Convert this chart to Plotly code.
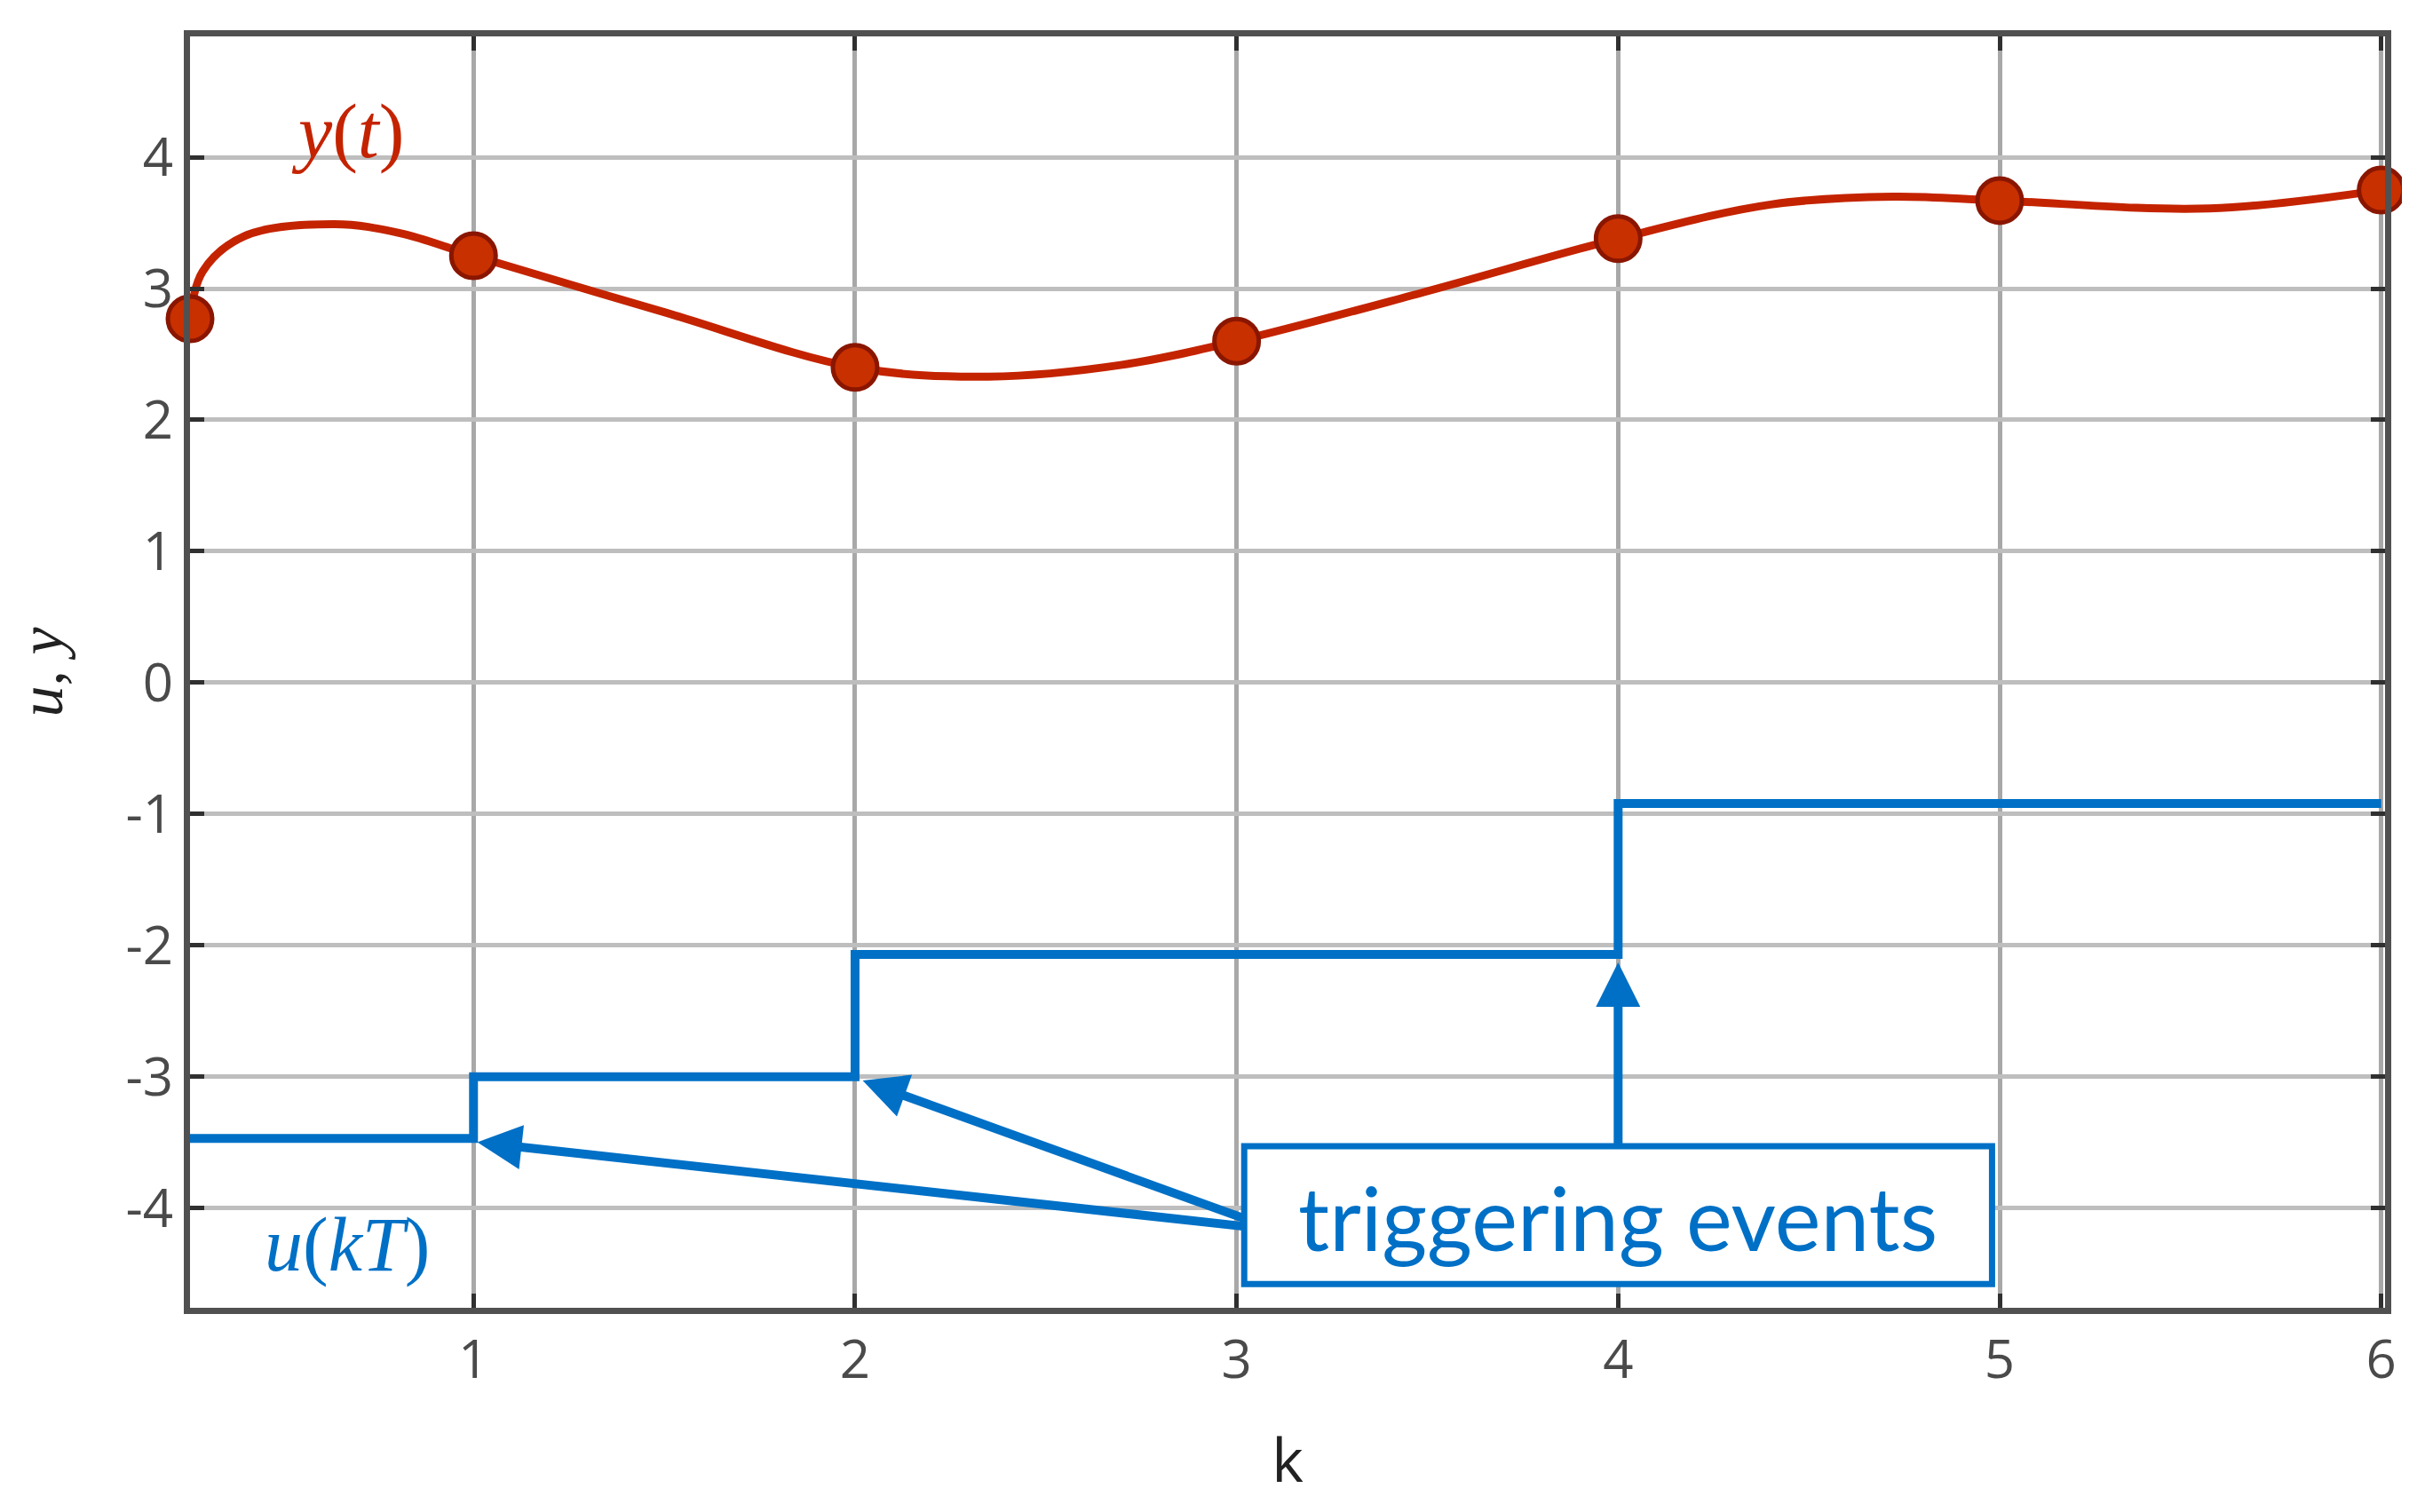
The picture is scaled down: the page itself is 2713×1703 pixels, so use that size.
import plotly.graph_objects as go

# sampled output y(kT) at the triggering instants
k_samples = [0.257, 1, 2, 3, 4, 5, 6]
y_samples = [2.77, 3.25, 2.40, 2.60, 3.38, 3.67, 3.75]

# continuous output y(t)
t_curve = [0.257, 0.29, 0.40, 0.636, 0.81, 1.0, 1.5, 2.0, 2.35, 2.7, 3.0, 3.5, 4.0, 4.4, 4.72, 5.0, 5.55, 6.0]
y_curve = [2.77, 3.13, 3.40, 3.49, 3.42, 3.25, 2.82, 2.40, 2.33, 2.42, 2.60, 2.98, 3.38, 3.64, 3.70, 3.67, 3.61, 3.75]

# held control input u(kT)
k_u = [0.257, 1, 2, 3, 4, 5, 6]
u_vals = [-3.47, -3.0, -2.07, -2.07, -0.92, -0.92, -0.92]

x_ticks = [1, 2, 3, 4, 5, 6]
y_ticks = [-4, -3, -2, -1, 0, 1, 2, 3, 4]
y_ticktext = ["-4", "-3", "-2", "-1", "0", "1", "2", "3", "4"]

RED = "#C42300"
BLUE = "#0070C6"

fig = go.Figure()

fig.add_trace(go.Scatter(x=t_curve, y=y_curve, mode="lines",
                         line=dict(color=RED, width=9, shape="spline", smoothing=1.0),
                         hoverinfo="skip"))
fig.add_trace(go.Scatter(x=k_u, y=u_vals, mode="lines",
                         line=dict(color=BLUE, width=10, shape="hv"),
                         cliponaxis=False))
fig.add_trace(go.Scatter(x=k_samples, y=y_samples, mode="markers",
                         marker=dict(color="#C83000", size=50, line=dict(color="#8A1600", width=5)),
                         cliponaxis=False))

# "triggering events" box and its arrows
fig.add_shape(type="rect", x0=3.02, x1=4.98, y0=-4.58, y1=-3.53,
              fillcolor="white", line=dict(color=BLUE, width=7))
fig.add_annotation(x=4.0, y=-4.07, text="triggering events", showarrow=False,
                   font=dict(family="Lato", size=98, color=BLUE))

arrows = [((1.01, -3.50), (3.02, -4.14)),
          ((2.02, -3.03), (3.02, -4.08)),
          ((4.0, -2.13), (4.0, -3.53))]
for (tip, tail) in arrows:
    fig.add_annotation(x=tip[0], y=tip[1], ax=tail[0], ay=tail[1],
                       xref="x", yref="y", axref="x", ayref="y",
                       text="", showarrow=True, arrowhead=2, arrowsize=1.0,
                       arrowwidth=10, arrowcolor=BLUE)

fig.add_annotation(x=0.67, y=4.2, text="<i>y</i>(<i>t</i>)", showarrow=False,
                   font=dict(family="Liberation Serif", size=86, color=RED))
fig.add_annotation(x=0.67, y=-4.28, text="<i>u</i>(<i>kT</i>)", showarrow=False,
                   font=dict(family="Liberation Serif", size=86, color=BLUE))

fig.update_layout(
    width=2713, height=1703,
    margin=dict(l=206, r=35, t=33, b=238),
    plot_bgcolor="white", paper_bgcolor="white",
    showlegend=False,
)
fig.update_xaxes(
    range=[0.257, 6.01], tickvals=x_ticks,
    showgrid=True, gridcolor="#A8A8A8", gridwidth=5,
    showline=True, linecolor="#505050", linewidth=7, mirror="ticks",
    ticks="inside", ticklen=16, tickwidth=5, tickcolor="#303030",
    tickfont=dict(family="Open Sans", size=60, color="#4A4A4A"),
    zeroline=False,
    title=dict(text="k", font=dict(family="Open Sans", size=68, color="#222222"), standoff=55),
)
fig.update_yaxes(
    range=[-4.76, 4.92], tickvals=y_ticks, ticktext=y_ticktext,
    showgrid=True, gridcolor="#BEBEBE", gridwidth=5,
    showline=True, linecolor="#505050", linewidth=7, mirror="ticks",
    ticks="inside", ticklen=16, tickwidth=5, tickcolor="#303030",
    tickfont=dict(family="Open Sans", size=60, color="#4A4A4A"),
    zeroline=False,
    title=dict(text="<i>u</i>, <i>y</i>", font=dict(family="Liberation Serif", size=70, color="#222222"), standoff=50),
)

fig.write_html("out.html")
